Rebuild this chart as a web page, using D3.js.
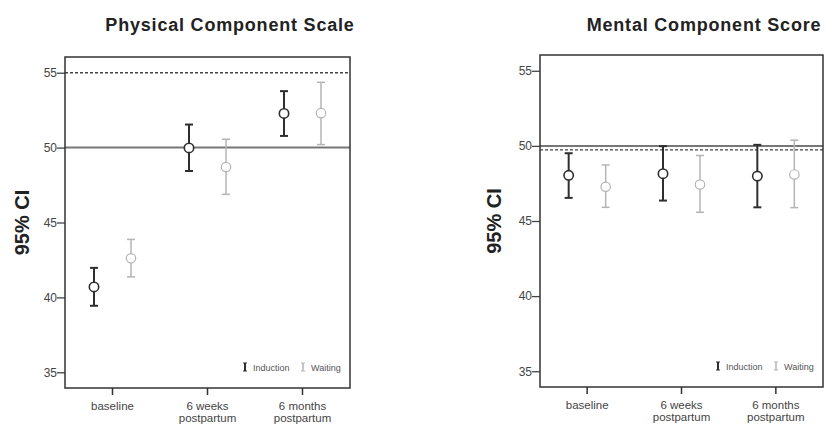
<!DOCTYPE html>
<meta charset="utf-8" />
<script src="https://d3js.org/d3.v7.js"></script>
<style>
	body { margin: 0; background: #fff; }
	svg { font-family: "Liberation Sans", Arial, sans-serif; display: block; }
</style>
<div id="chart"></div>
<script>
	// time points and groups
	const timepoints = ["baseline", "6 weeks postpartum", "6 months postpartum"];
	const tickLines = [["baseline"], ["6 weeks", "postpartum"], ["6 months", "postpartum"]];
	const groups = ["Induction", "Waiting"];
	const yTicks = [35, 40, 45, 50, 55];

	// Physical Component Scale
	const pcsInductionMean = [40.7, 49.98, 52.28];
	const pcsInductionLow = [39.44, 48.44, 50.78];
	const pcsInductionHigh = [41.97, 51.54, 53.77];
	const pcsWaitingMean = [42.61, 48.7, 52.3];
	const pcsWaitingLow = [41.37, 46.88, 50.2];
	const pcsWaitingHigh = [43.87, 50.56, 54.36];
	const pcsRefSolid = 50;
	const pcsRefDashed = 55;

	// Mental Component Score
	const mcsInductionMean = [48.04, 48.15, 47.99];
	const mcsInductionLow = [46.54, 46.36, 45.91];
	const mcsInductionHigh = [49.51, 49.98, 50.07];
	const mcsWaitingMean = [47.28, 47.43, 48.1];
	const mcsWaitingLow = [45.91, 45.58, 45.89];
	const mcsWaitingHigh = [48.73, 49.36, 50.38];
	const mcsRefSolid = 50;
	const mcsRefDashed = 49.73;

	const colors = { Induction: "#2e2e2e", Waiting: "#b4b4b4" };
	const widths = { Induction: 2, Waiting: 1.5 };

	const svg = d3.select("#chart").append("svg")
		.attr("width", 827)
		.attr("height", 425);

	function rows(mean, low, high, group) {
		return timepoints.map((t, i) => ({ t, group, mean: mean[i], low: low[i], high: high[i] }));
	}

	function drawPanel(opts) {
		const w = opts.right - opts.left;
		const h = opts.bottom - opts.top;
		const g = svg.append("g").attr("transform", "translate(" + opts.left + "," + opts.top + ")");

		const x = d3.scaleBand().domain(timepoints).range([0, w]);
		const xg = d3.scaleBand().domain(groups).range([-37, 37]);
		const y = d3.scaleLinear().domain([33.95, 56.05]).range([h, 0]);

		// reference lines
		g.append("line")
			.attr("x1", 0).attr("x2", w)
			.attr("y1", y(opts.refSolid)).attr("y2", y(opts.refSolid))
			.attr("stroke", "#777").attr("stroke-width", 2);
		g.append("line")
			.attr("x1", 0).attr("x2", w)
			.attr("y1", y(opts.refDashed)).attr("y2", y(opts.refDashed))
			.attr("stroke", "#444").attr("stroke-width", 1.3)
			.attr("stroke-dasharray", "3,2");

		// axes
		const yAxis = g.append("g").call(d3.axisLeft(y).tickValues(yTicks).tickSize(8).tickSizeOuter(0));
		yAxis.select(".domain").remove();
		yAxis.selectAll("line").attr("stroke", "#444").attr("stroke-width", 1.3);
		yAxis.selectAll("text").attr("font-size", 12).attr("fill", "#444").attr("x", -8);

		const xAxis = g.append("g").attr("transform", "translate(0," + h + ")")
			.call(d3.axisBottom(x).tickSize(7).tickSizeOuter(0).tickFormat(""));
		xAxis.select(".domain").remove();
		xAxis.selectAll("line").attr("stroke", "#333").attr("stroke-width", 1.5);
		xAxis.selectAll(".tick").each(function (d, i) {
			tickLines[i].forEach((line, j) => {
				d3.select(this).append("text")
					.attr("fill", "#444")
					.attr("font-size", 11.5)
					.attr("text-anchor", "middle")
					.attr("y", 22 + j * 12)
					.text(line);
			});
		});

		// error bars
		const data = opts.data;
		const items = g.selectAll(".pt").data(data).join("g")
			.attr("class", "pt")
			.attr("transform", d => "translate(" + (x(d.t) + x.bandwidth() / 2 + xg(d.group) + xg.bandwidth() / 2) + ",0)");
		items.append("line")
			.attr("y1", d => y(d.low)).attr("y2", d => y(d.high))
			.attr("stroke", d => colors[d.group]).attr("stroke-width", d => widths[d.group]);
		items.append("line")
			.attr("x1", -4).attr("x2", 4)
			.attr("y1", d => y(d.low)).attr("y2", d => y(d.low))
			.attr("stroke", d => colors[d.group]).attr("stroke-width", d => widths[d.group]);
		items.append("line")
			.attr("x1", -4).attr("x2", 4)
			.attr("y1", d => y(d.high)).attr("y2", d => y(d.high))
			.attr("stroke", d => colors[d.group]).attr("stroke-width", d => widths[d.group]);
		items.append("circle")
			.attr("cy", d => y(d.mean)).attr("r", 4.7)
			.attr("fill", "#fff")
			.attr("stroke", d => colors[d.group]).attr("stroke-width", d => widths[d.group] * 0.8);

		// frame
		g.append("rect")
			.attr("width", w).attr("height", h)
			.attr("fill", "none").attr("stroke", "#333").attr("stroke-width", 1.5);

		// legend
		const leg = g.append("g").attr("transform", "translate(" + (w - 105) + "," + (h - 21) + ")");
		groups.forEach((gr, i) => {
			const lg = leg.append("g").attr("transform", "translate(" + (i * 58) + ",0)");
			lg.append("line").attr("x1", 0).attr("x2", 0).attr("y1", -4).attr("y2", 4)
				.attr("stroke", colors[gr]).attr("stroke-width", widths[gr]);
			lg.append("line").attr("x1", -2).attr("x2", 2).attr("y1", -4).attr("y2", -4)
				.attr("stroke", colors[gr]).attr("stroke-width", 1);
			lg.append("line").attr("x1", -2).attr("x2", 2).attr("y1", 4).attr("y2", 4)
				.attr("stroke", colors[gr]).attr("stroke-width", 1);
			lg.append("text").attr("x", 8).attr("y", 3.5)
				.attr("font-size", 9).attr("fill", "#555").text(gr);
		});

		// titles
		svg.append("text")
			.attr("x", opts.titleX).attr("y", 31)
			.attr("text-anchor", "middle")
			.attr("font-size", 18).attr("font-weight", "bold").attr("fill", "#222")
			.attr("letter-spacing", 0.8)
			.text(opts.title);
		svg.append("text")
			.attr("transform", "translate(" + opts.labelX + "," + (opts.top + h / 2) + ") rotate(-90)")
			.attr("text-anchor", "middle")
			.attr("font-size", 20).attr("font-weight", "bold").attr("fill", "#222")
			.text("95% CI");
	}

	drawPanel({
		left: 65, right: 350, top: 57, bottom: 388,
		titleX: 230, labelX: 29, title: "Physical Component Scale",
		refSolid: pcsRefSolid, refDashed: pcsRefDashed,
		data: rows(pcsInductionMean, pcsInductionLow, pcsInductionHigh, "Induction")
			.concat(rows(pcsWaitingMean, pcsWaitingLow, pcsWaitingHigh, "Waiting"))
	});

	drawPanel({
		left: 540, right: 823, top: 55, bottom: 387,
		titleX: 704, labelX: 501, title: "Mental Component Score",
		refSolid: mcsRefSolid, refDashed: mcsRefDashed,
		data: rows(mcsInductionMean, mcsInductionLow, mcsInductionHigh, "Induction")
			.concat(rows(mcsWaitingMean, mcsWaitingLow, mcsWaitingHigh, "Waiting"))
	});
</script>
